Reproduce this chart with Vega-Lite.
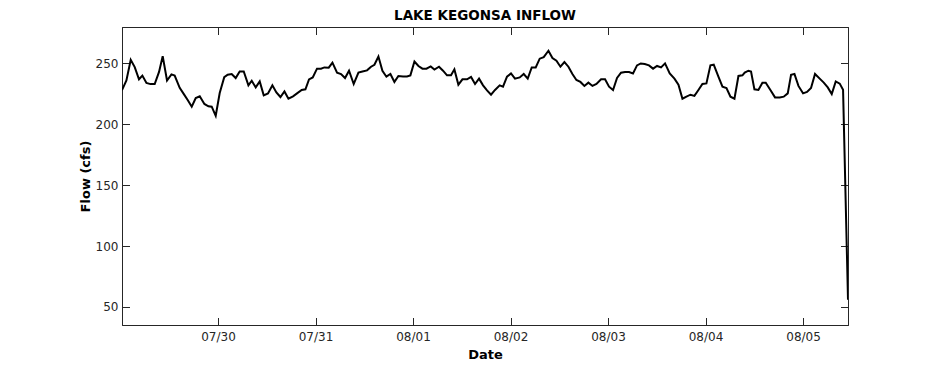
{
  "$schema": "https://vega.github.io/schema/vega-lite/v6.json",
  "width": 726,
  "height": 298,
  "autosize": "none",
  "padding": {"left": 122, "top": 27, "right": 90, "bottom": 40},
  "background": "white",
  "title": {"text": "LAKE KEGONSA INFLOW", "font": "DejaVu Sans", "fontSize": 13.5, "fontWeight": "bold", "color": "#000000", "offset": 4},
  "data": {"values": [
    {"t": "2024-07-29T00:22", "v": 228},
    {"t": "2024-07-29T01:27", "v": 236},
    {"t": "2024-07-29T02:31", "v": 253},
    {"t": "2024-07-29T03:30", "v": 247},
    {"t": "2024-07-29T04:33", "v": 237},
    {"t": "2024-07-29T05:23", "v": 240},
    {"t": "2024-07-29T06:23", "v": 234},
    {"t": "2024-07-29T07:22", "v": 233},
    {"t": "2024-07-29T08:25", "v": 233},
    {"t": "2024-07-29T09:29", "v": 243},
    {"t": "2024-07-29T10:23", "v": 256},
    {"t": "2024-07-29T11:27", "v": 236},
    {"t": "2024-07-29T12:32", "v": 241},
    {"t": "2024-07-29T13:20", "v": 240},
    {"t": "2024-07-29T14:34", "v": 230},
    {"t": "2024-07-29T15:33", "v": 225},
    {"t": "2024-07-29T16:32", "v": 220},
    {"t": "2024-07-29T17:32", "v": 214.5},
    {"t": "2024-07-29T18:31", "v": 221.6},
    {"t": "2024-07-29T19:30", "v": 223},
    {"t": "2024-07-29T20:39", "v": 216.7},
    {"t": "2024-07-29T21:38", "v": 214.8},
    {"t": "2024-07-29T22:27", "v": 214.5},
    {"t": "2024-07-29T23:26", "v": 207},
    {"t": "2024-07-30T00:25", "v": 225.7},
    {"t": "2024-07-30T01:32", "v": 238.7},
    {"t": "2024-07-30T02:23", "v": 240.7},
    {"t": "2024-07-30T03:22", "v": 241.3},
    {"t": "2024-07-30T04:21", "v": 238},
    {"t": "2024-07-30T05:20", "v": 243.4},
    {"t": "2024-07-30T06:20", "v": 243.4},
    {"t": "2024-07-30T07:29", "v": 232},
    {"t": "2024-07-30T08:18", "v": 235.8},
    {"t": "2024-07-30T09:17", "v": 230.3},
    {"t": "2024-07-30T10:16", "v": 235.2},
    {"t": "2024-07-30T11:15", "v": 223.8},
    {"t": "2024-07-30T12:18", "v": 225.4},
    {"t": "2024-07-30T13:23", "v": 232},
    {"t": "2024-07-30T14:22", "v": 226.2},
    {"t": "2024-07-30T15:22", "v": 222.4},
    {"t": "2024-07-30T16:21", "v": 227},
    {"t": "2024-07-30T17:20", "v": 221},
    {"t": "2024-07-30T18:28", "v": 223},
    {"t": "2024-07-30T19:27", "v": 225.4},
    {"t": "2024-07-30T20:36", "v": 228.2},
    {"t": "2024-07-30T21:31", "v": 228.7},
    {"t": "2024-07-30T22:24", "v": 236.9},
    {"t": "2024-07-30T23:19", "v": 238.5},
    {"t": "2024-07-31T00:22", "v": 245.7},
    {"t": "2024-07-31T01:21", "v": 245.7},
    {"t": "2024-07-31T02:11", "v": 246.7},
    {"t": "2024-07-31T03:15", "v": 246.5},
    {"t": "2024-07-31T04:10", "v": 250.6},
    {"t": "2024-07-31T05:18", "v": 242.4},
    {"t": "2024-07-31T06:17", "v": 241.3},
    {"t": "2024-07-31T07:16", "v": 238},
    {"t": "2024-07-31T08:15", "v": 244},
    {"t": "2024-07-31T09:24", "v": 233.1},
    {"t": "2024-07-31T10:34", "v": 242.4},
    {"t": "2024-07-31T11:33", "v": 243.4},
    {"t": "2024-07-31T12:41", "v": 244.3},
    {"t": "2024-07-31T13:40", "v": 247.3},
    {"t": "2024-07-31T14:30", "v": 248.9},
    {"t": "2024-07-31T15:29", "v": 255.7},
    {"t": "2024-07-31T16:28", "v": 244},
    {"t": "2024-07-31T17:27", "v": 239.1},
    {"t": "2024-07-31T18:26", "v": 241.3},
    {"t": "2024-07-31T19:25", "v": 234.8},
    {"t": "2024-07-31T20:24", "v": 239.7},
    {"t": "2024-07-31T21:32", "v": 239.3},
    {"t": "2024-07-31T22:31", "v": 239.3},
    {"t": "2024-07-31T23:21", "v": 240.2},
    {"t": "2024-08-01T00:21", "v": 251.6},
    {"t": "2024-08-01T01:20", "v": 247.9},
    {"t": "2024-08-01T02:19", "v": 245.7},
    {"t": "2024-08-01T03:18", "v": 245.7},
    {"t": "2024-08-01T04:21", "v": 247.5},
    {"t": "2024-08-01T05:16", "v": 245},
    {"t": "2024-08-01T06:24", "v": 247.3},
    {"t": "2024-08-01T07:23", "v": 244},
    {"t": "2024-08-01T08:22", "v": 240.2},
    {"t": "2024-08-01T09:21", "v": 240.2},
    {"t": "2024-08-01T10:11", "v": 245.1},
    {"t": "2024-08-01T11:10", "v": 232.5},
    {"t": "2024-08-01T12:10", "v": 236.9},
    {"t": "2024-08-01T13:18", "v": 236.9},
    {"t": "2024-08-01T14:17", "v": 238.9},
    {"t": "2024-08-01T15:16", "v": 233.1},
    {"t": "2024-08-01T16:15", "v": 237.5},
    {"t": "2024-08-01T17:14", "v": 232},
    {"t": "2024-08-01T18:13", "v": 227.9},
    {"t": "2024-08-01T19:12", "v": 224.3},
    {"t": "2024-08-01T20:11", "v": 228.2},
    {"t": "2024-08-01T21:20", "v": 232},
    {"t": "2024-08-01T22:09", "v": 230.9},
    {"t": "2024-08-01T23:08", "v": 239.1},
    {"t": "2024-08-02T00:07", "v": 241.8},
    {"t": "2024-08-02T01:06", "v": 237.5},
    {"t": "2024-08-02T02:16", "v": 238.5},
    {"t": "2024-08-02T03:15", "v": 241.3},
    {"t": "2024-08-02T04:14", "v": 237.5},
    {"t": "2024-08-02T05:13", "v": 246.7},
    {"t": "2024-08-02T06:12", "v": 246.7},
    {"t": "2024-08-02T07:11", "v": 253.9},
    {"t": "2024-08-02T08:10", "v": 255.2},
    {"t": "2024-08-02T09:20", "v": 260.4},
    {"t": "2024-08-02T10:19", "v": 254.4},
    {"t": "2024-08-02T11:18", "v": 252.2},
    {"t": "2024-08-02T12:17", "v": 247.3},
    {"t": "2024-08-02T13:16", "v": 251.1},
    {"t": "2024-08-02T14:15", "v": 247.3},
    {"t": "2024-08-02T15:14", "v": 241.3},
    {"t": "2024-08-02T16:13", "v": 236.4},
    {"t": "2024-08-02T17:12", "v": 234.8},
    {"t": "2024-08-02T18:11", "v": 231.5},
    {"t": "2024-08-02T19:10", "v": 234.2},
    {"t": "2024-08-02T20:10", "v": 231.5},
    {"t": "2024-08-02T21:09", "v": 233.1},
    {"t": "2024-08-02T22:17", "v": 236.9},
    {"t": "2024-08-02T23:16", "v": 236.9},
    {"t": "2024-08-03T00:15", "v": 230.9},
    {"t": "2024-08-03T01:14", "v": 228.2},
    {"t": "2024-08-03T02:13", "v": 238},
    {"t": "2024-08-03T03:12", "v": 242.4},
    {"t": "2024-08-03T04:11", "v": 243},
    {"t": "2024-08-03T05:10", "v": 243},
    {"t": "2024-08-03T06:09", "v": 241.8},
    {"t": "2024-08-03T07:08", "v": 248.4},
    {"t": "2024-08-03T08:03", "v": 250},
    {"t": "2024-08-03T09:02", "v": 249.5},
    {"t": "2024-08-03T10:05", "v": 248.4},
    {"t": "2024-08-03T11:05", "v": 245.7},
    {"t": "2024-08-03T12:04", "v": 247.9},
    {"t": "2024-08-03T13:03", "v": 246.7},
    {"t": "2024-08-03T14:02", "v": 250},
    {"t": "2024-08-03T15:11", "v": 241.8},
    {"t": "2024-08-03T16:21", "v": 237.5},
    {"t": "2024-08-03T17:20", "v": 232.5},
    {"t": "2024-08-03T18:19", "v": 221},
    {"t": "2024-08-03T19:18", "v": 222.7},
    {"t": "2024-08-03T20:17", "v": 224.3},
    {"t": "2024-08-03T21:16", "v": 223.3},
    {"t": "2024-08-03T22:15", "v": 228.2},
    {"t": "2024-08-03T23:14", "v": 233.1},
    {"t": "2024-08-04T00:13", "v": 233.6},
    {"t": "2024-08-04T01:12", "v": 248.4},
    {"t": "2024-08-04T02:01", "v": 248.9},
    {"t": "2024-08-04T03:10", "v": 239.1},
    {"t": "2024-08-04T04:10", "v": 230.9},
    {"t": "2024-08-04T05:09", "v": 229.8},
    {"t": "2024-08-04T06:08", "v": 222.7},
    {"t": "2024-08-04T07:07", "v": 221},
    {"t": "2024-08-04T08:06", "v": 239.7},
    {"t": "2024-08-04T09:05", "v": 240.2},
    {"t": "2024-08-04T09:39", "v": 242.4},
    {"t": "2024-08-04T10:33", "v": 244},
    {"t": "2024-08-04T11:12", "v": 243.4},
    {"t": "2024-08-04T12:02", "v": 228.7},
    {"t": "2024-08-04T13:01", "v": 228.2},
    {"t": "2024-08-04T14:00", "v": 234.2},
    {"t": "2024-08-04T14:49", "v": 234.2},
    {"t": "2024-08-04T15:58", "v": 228.2},
    {"t": "2024-08-04T17:06", "v": 222.1},
    {"t": "2024-08-04T18:16", "v": 222.1},
    {"t": "2024-08-04T19:15", "v": 222.7},
    {"t": "2024-08-04T20:14", "v": 225.4},
    {"t": "2024-08-04T21:03", "v": 240.7},
    {"t": "2024-08-04T21:53", "v": 241.3},
    {"t": "2024-08-04T22:52", "v": 231.5},
    {"t": "2024-08-05T00:00", "v": 225.4},
    {"t": "2024-08-05T00:59", "v": 226.6},
    {"t": "2024-08-05T01:58", "v": 229.8},
    {"t": "2024-08-05T02:57", "v": 241.3},
    {"t": "2024-08-05T04:06", "v": 237.5},
    {"t": "2024-08-05T05:06", "v": 234.2},
    {"t": "2024-08-05T06:05", "v": 230.3},
    {"t": "2024-08-05T07:04", "v": 224.9},
    {"t": "2024-08-05T08:03", "v": 235.2},
    {"t": "2024-08-05T09:02", "v": 233.4},
    {"t": "2024-08-05T09:51", "v": 228.4},
    {"t": "2024-08-05T11:04", "v": 56}
  ]},
  "layer": [
    {
      "mark": {"type": "line", "color": "#000000", "strokeWidth": 2, "strokeJoin": "miter", "clip": true},
      "encoding": {
        "x": {
          "field": "t", "type": "temporal",
          "scale": {"domain": [{"year": 2024, "month": "jul", "date": 29, "hours": 0, "minutes": 22}, {"year": 2024, "month": "aug", "date": 5, "hours": 11, "minutes": 4}], "nice": false},
          "axis": {
            "orient": "bottom", "title": "Date", "format": "%m/%d",
            "values": [
              {"year": 2024, "month": "jul", "date": 30},
              {"year": 2024, "month": "jul", "date": 31},
              {"year": 2024, "month": "aug", "date": 1},
              {"year": 2024, "month": "aug", "date": 2},
              {"year": 2024, "month": "aug", "date": 3},
              {"year": 2024, "month": "aug", "date": 4},
              {"year": 2024, "month": "aug", "date": 5}
            ],
            "labelPadding": 13.5, "titlePadding": 6
          }
        },
        "y": {
          "field": "v", "type": "quantitative",
          "scale": {"domain": [35.2, 279.9], "nice": false, "zero": false},
          "axis": {"orient": "left", "title": "Flow (cfs)", "values": [50, 100, 150, 200, 250], "labelPadding": 11.5, "titlePadding": 3}
        }
      }
    },
    {
      "mark": {"type": "line", "opacity": 0},
      "encoding": {
        "x": {
          "field": "t", "type": "temporal",
          "scale": {"domain": [{"year": 2024, "month": "jul", "date": 29, "hours": 0, "minutes": 22}, {"year": 2024, "month": "aug", "date": 5, "hours": 11, "minutes": 4}], "nice": false},
          "axis": {
            "orient": "top", "title": null, "labels": false,
            "values": [
              {"year": 2024, "month": "jul", "date": 30},
              {"year": 2024, "month": "jul", "date": 31},
              {"year": 2024, "month": "aug", "date": 1},
              {"year": 2024, "month": "aug", "date": 2},
              {"year": 2024, "month": "aug", "date": 3},
              {"year": 2024, "month": "aug", "date": 4},
              {"year": 2024, "month": "aug", "date": 5}
            ]
          }
        },
        "y": {
          "field": "v", "type": "quantitative",
          "scale": {"domain": [35.2, 279.9], "nice": false, "zero": false},
          "axis": {"orient": "right", "title": null, "labels": false, "values": [50, 100, 150, 200, 250]}
        }
      }
    }
  ],
  "resolve": {"scale": {"x": "independent", "y": "independent"}, "axis": {"x": "independent", "y": "independent"}},
  "config": {
    "font": "DejaVu Sans",
    "view": {"stroke": "#262626", "strokeWidth": 1},
    "axis": {
      "grid": false,
      "domain": true,
      "domainColor": "#262626",
      "domainWidth": 1,
      "ticks": true,
      "tickColor": "#262626",
      "tickWidth": 1,
      "tickSize": -7.5,
      "labelColor": "#262626",
      "labelFont": "DejaVu Sans",
      "labelFontSize": 12,
      "titleFont": "DejaVu Sans",
      "titleFontSize": 13,
      "titleFontWeight": "bold",
      "titleColor": "#000000",
      "labelFlush": false,
      "labelOverlap": false
    }
  }
}
